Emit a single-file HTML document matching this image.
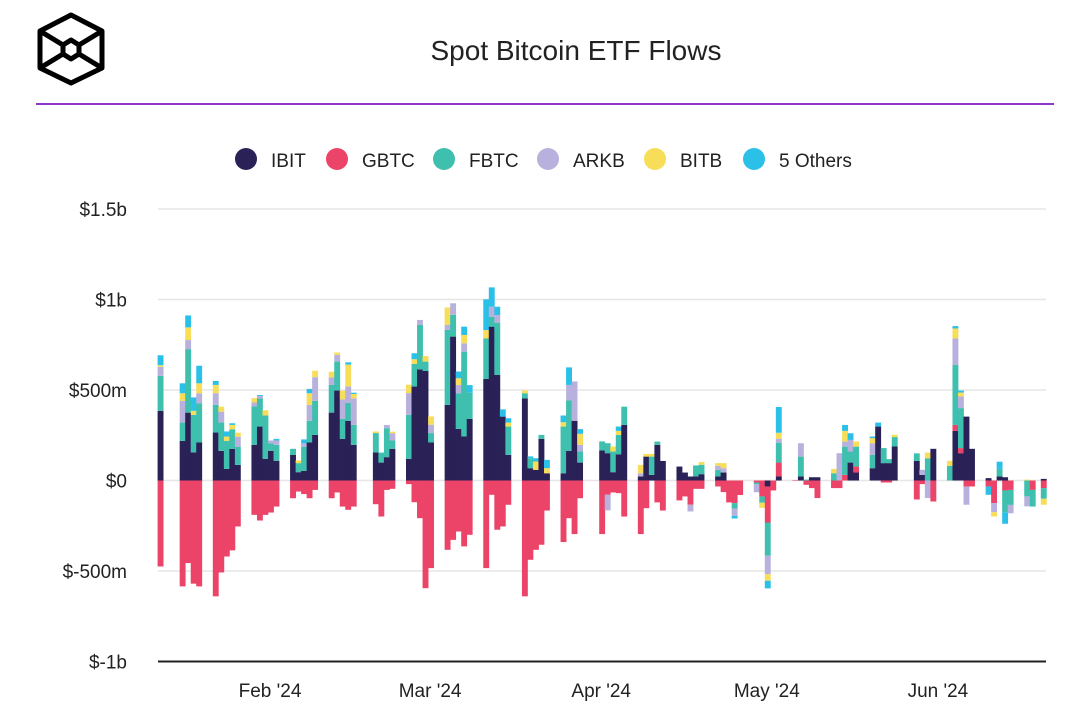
<!DOCTYPE html>
<html><head><meta charset="utf-8"><style>
body{margin:0;background:#fff;width:1066px;height:714px;overflow:hidden;font-family:"Liberation Sans",sans-serif;}
svg text{font-family:"Liberation Sans",sans-serif;fill:#222;}
</style></head><body>
<svg id="chart" width="1066" height="714" viewBox="0 0 1066 714">
<g fill="none" stroke="#000" stroke-width="5" stroke-linejoin="round">
<polygon points="71,15 102,31 102,68 71,83 40,68 40,31"/>
<polygon points="71,40 79,45 79,54 71,59 63,54 63,45"/>
<line x1="40" y1="31" x2="63" y2="45"/><line x1="102" y1="31" x2="79" y2="45"/>
<line x1="40" y1="68" x2="63" y2="54"/><line x1="102" y1="68" x2="79" y2="54"/>
</g>
<text x="576" y="60" text-anchor="middle" font-size="28">Spot Bitcoin ETF Flows</text>
<line x1="36" y1="104" x2="1054" y2="104" stroke="#8e35cc" stroke-width="2"/>
<g id="legend"></g>
<g id="grid"></g>
<g id="bars"></g>
<g id="axes"></g>
</svg>
<script>
const dates=["2024-01-12","2024-01-16","2024-01-17","2024-01-18","2024-01-19","2024-01-22","2024-01-23","2024-01-24","2024-01-25","2024-01-26","2024-01-29","2024-01-30","2024-01-31","2024-02-01","2024-02-02","2024-02-05","2024-02-06","2024-02-07","2024-02-08","2024-02-09","2024-02-12","2024-02-13","2024-02-14","2024-02-15","2024-02-16","2024-02-20","2024-02-21","2024-02-22","2024-02-23","2024-02-26","2024-02-27","2024-02-28","2024-02-29","2024-03-01","2024-03-04","2024-03-05","2024-03-06","2024-03-07","2024-03-08","2024-03-11","2024-03-12","2024-03-13","2024-03-14","2024-03-15","2024-03-18","2024-03-19","2024-03-20","2024-03-21","2024-03-22","2024-03-25","2024-03-26","2024-03-27","2024-03-28","2024-04-01","2024-04-02","2024-04-03","2024-04-04","2024-04-05","2024-04-08","2024-04-09","2024-04-10","2024-04-11","2024-04-12","2024-04-15","2024-04-16","2024-04-17","2024-04-18","2024-04-19","2024-04-22","2024-04-23","2024-04-24","2024-04-25","2024-04-26","2024-04-29","2024-04-30","2024-05-01","2024-05-02","2024-05-03","2024-05-06","2024-05-07","2024-05-08","2024-05-09","2024-05-10","2024-05-13","2024-05-14","2024-05-15","2024-05-16","2024-05-17","2024-05-20","2024-05-21","2024-05-22","2024-05-23","2024-05-24","2024-05-28","2024-05-29","2024-05-30","2024-05-31","2024-06-03","2024-06-04","2024-06-05","2024-06-06","2024-06-07","2024-06-10","2024-06-11","2024-06-12","2024-06-13","2024-06-14","2024-06-17","2024-06-18","2024-06-20"];
const ibit=[385,219,375,155,210,265,164,64,175,86,197,298,120,164,109,142,46,53,210,252,375,497,230,330,197,155,99,129,175,120,519,614,605,210,418,795,285,243,340,561,850,583,353,142,454,68,59,230,40,40,164,330,99,166,151,46,145,307,22,132,31,197,108,77,44,22,22,35,22,44,0,0,0,0,0,-33,0,22,0,22,0,18,18,0,0,0,99,44,68,298,96,96,188,108,31,0,175,0,274,151,353,175,13,0,22,18,0,0,0,9];
const gbtc=[-475,-585,-456,-570,-585,-640,-508,-420,-386,-254,-190,-221,-190,-177,-144,-98,-61,-75,-98,-52,-98,-66,-144,-162,-144,-131,-199,-52,-46,-20,-120,-208,-595,-484,-383,-328,-282,-364,-300,-484,-79,-272,-254,-134,-640,-438,-383,-355,-166,-340,-208,-296,-98,-296,-79,-66,-70,-199,-296,-153,0,-121,-166,-110,-88,-134,-46,-46,-33,-64,-121,-125,-80,-11,-88,-199,-55,77,3,0,-24,-42,-97,-42,-42,31,0,33,0,0,-11,-11,0,-105,-20,0,-116,0,33,28,-33,-33,-33,-125,0,-55,-52,0,-52,-42];
const fbtc=[193,101,351,208,217,153,156,155,108,101,212,156,239,42,88,33,50,134,120,188,153,160,110,98,110,107,55,160,46,243,125,245,52,52,414,120,197,469,145,224,55,289,0,156,28,55,0,22,0,258,278,0,61,50,55,114,107,101,0,0,101,18,0,0,0,0,61,52,37,0,0,-30,0,-10,-35,-184,0,110,0,110,5,0,0,40,0,156,61,110,74,0,83,22,52,42,0,123,0,81,331,221,0,0,0,0,42,-120,-83,-88,-92,-59];
const arkb=[50,120,50,0,55,64,60,0,0,55,22,13,0,15,24,0,0,18,88,131,42,37,108,92,147,0,0,18,40,120,0,28,0,46,28,64,46,46,0,0,55,42,0,0,0,0,0,0,0,0,86,217,37,0,-86,0,0,0,18,0,0,0,0,0,0,-37,0,0,22,24,0,-40,0,-44,0,-101,0,22,0,74,0,0,0,0,151,28,64,0,64,0,0,0,0,0,28,-97,0,0,147,64,-101,0,0,-50,0,0,-46,-55,0,0];
const bitb=[9,42,70,22,55,46,28,24,24,22,24,0,29,0,0,0,15,0,64,35,31,13,48,120,24,9,0,0,9,46,26,0,31,46,96,0,37,46,0,46,0,0,0,22,15,0,46,0,28,24,0,0,61,0,0,28,22,0,46,15,15,0,0,0,0,0,0,15,15,28,0,0,0,0,-28,-37,0,33,0,0,0,0,0,24,0,59,0,28,28,0,0,0,13,0,0,31,0,28,55,22,0,0,0,-24,0,0,0,5,0,-33];
const others=[55,55,66,74,97,22,0,28,9,0,0,5,0,0,9,0,0,22,24,0,0,0,0,13,7,0,0,0,0,0,33,0,0,0,0,0,37,46,42,170,107,46,40,24,0,10,18,0,46,37,97,0,26,0,0,0,24,0,0,0,0,0,0,0,0,0,0,0,0,0,0,-15,0,0,0,-42,0,142,0,0,0,0,0,0,0,33,37,0,9,22,0,0,0,0,0,0,0,0,13,11,0,0,-46,0,40,-64,0,0,0,0];
const yTicks=[1500,1000,500,0,-500,-1000];
const yTickLabels=["$1.5b","$1b","$500m","$0","$-500m","$-1b"];
const xTicks=["2024-02-01","2024-03-01","2024-04-01","2024-05-01","2024-06-01"];
const xTickLabels=["Feb '24","Mar '24","Apr '24","May '24","Jun '24"];
const seriesNames=["IBIT","GBTC","FBTC","ARKB","BITB","5 Others"];

const colors=["#2a2157","#ec4468","#3fbfae","#b9b1dd","#f8dd59","#2bc0e8"];
const series=[ibit,gbtc,fbtc,arkb,bitb,others];
const NS="http://www.w3.org/2000/svg";
const DAY=86400000, T0=Date.parse("2024-02-01");
function xScale(d){return 268+(Date.parse(d)-T0)/DAY*5.52;}
function yScale(v){return 480.5-v*0.181;}
function mk(tag,attrs,parent){const e=document.createElementNS(NS,tag);for(const k in attrs)e.setAttribute(k,attrs[k]);parent.appendChild(e);return e;}
const grid=document.getElementById('grid'),axes=document.getElementById('axes'),bars=document.getElementById('bars'),legend=document.getElementById('legend');
yTicks.forEach((v,i)=>{
  const y=yScale(v);
  const l=mk('line',{x1:158,x2:1046,y1:y,y2:y,stroke:i===yTicks.length-1?'#222':'#e6e6e6','stroke-width':i===yTicks.length-1?2:1.5},grid);
  
  
  const t=mk('text',{x:127,y:y+7,'text-anchor':'end','font-size':19},axes);
  t.textContent=yTickLabels[i];
  
  
});
xTicks.forEach((d,i)=>{
  const t=mk('text',{x:xScale(d)+2,y:697,'text-anchor':'middle','font-size':19},axes);
  t.textContent=xTickLabels[i];
  
  
});
dates.forEach((d,i)=>{
  const x=xScale(d);let pos=0,neg=0;
  series.forEach((s,k)=>{
    const v=s[i];if(!v)return;
    let y0,y1;
    if(v>0){y0=yScale(pos+v);y1=yScale(pos);pos+=v;}else{y0=yScale(neg);y1=yScale(neg+v);neg+=v;}
    const r=mk('rect',{x:x,y:y0,width:5.9,height:Math.max(0.5,y1-y0),fill:colors[k]},bars);
    
    
  });
});
const lx=[246,337,444,548,655,754];
seriesNames.forEach((n,i)=>{
  const g=mk('g',{},legend);
  
  
  mk('circle',{cx:lx[i],cy:159,r:11,fill:colors[i]},g);
  const t=mk('text',{x:lx[i]+25,y:167,'font-size':19},g);
  t.textContent=n;
});
</script>
</body></html>
